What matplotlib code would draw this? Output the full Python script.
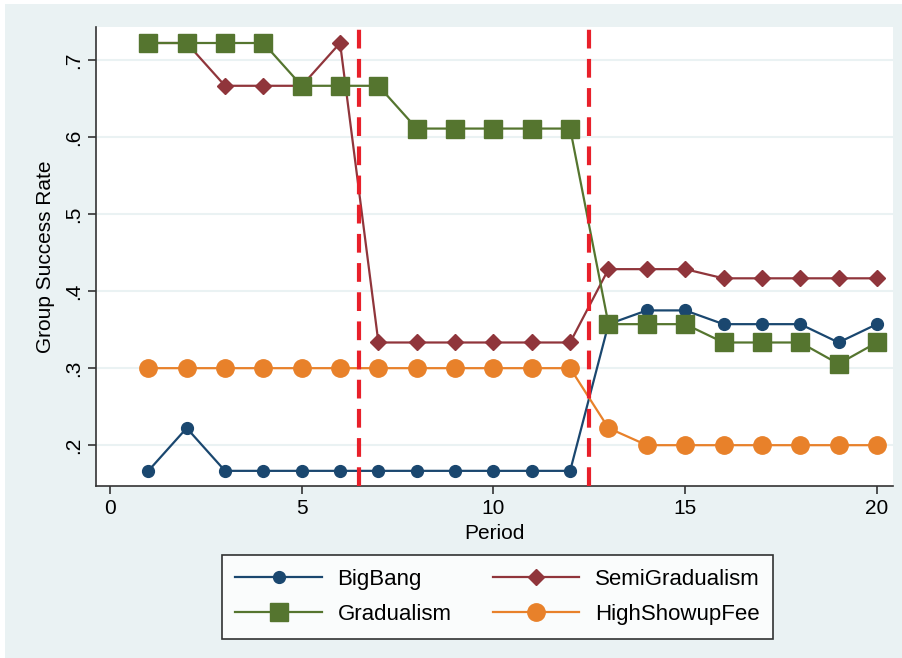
import numpy as np
import matplotlib
matplotlib.use("Agg")
import matplotlib.pyplot as plt
from matplotlib.patches import Rectangle

plt.rcParams['font.family'] = ['Liberation Sans', 'DejaVu Sans']

periods = list(range(1, 21))
big_bang = [1/6, 2/9, 1/6, 1/6, 1/6, 1/6, 1/6, 1/6, 1/6, 1/6, 1/6, 1/6,
            5/14, 3/8, 3/8, 5/14, 5/14, 5/14, 1/3, 5/14]
semi_grad = [13/18, 13/18, 2/3, 2/3, 2/3, 13/18, 1/3, 1/3, 1/3, 1/3, 1/3, 1/3,
             3/7, 3/7, 3/7, 5/12, 5/12, 5/12, 5/12, 5/12]
gradualism = [13/18, 13/18, 13/18, 13/18, 2/3, 2/3, 2/3, 11/18, 11/18, 11/18, 11/18, 11/18,
              5/14, 5/14, 5/14, 1/3, 1/3, 1/3, 11/36, 1/3]
high_fee = [0.3, 0.3, 0.3, 0.3, 0.3, 0.3, 0.3, 0.3, 0.3, 0.3, 0.3, 0.3,
            2/9, 0.2, 0.2, 0.2, 0.2, 0.2, 0.2, 0.2]
breaks = [6.5, 12.5]
yticks = [0.2, 0.3, 0.4, 0.5, 0.6, 0.7]
ytick_labels = ['.2', '.3', '.4', '.5', '.6', '.7']
xticks = [0, 5, 10, 15, 20]

bg = '#EAF2F3'
fig = plt.figure(figsize=(9.03, 6.58), dpi=100, facecolor='white')
fig.patches.append(Rectangle((5/903, 0), 1, 1 - 4/658, transform=fig.transFigure,
                             facecolor=bg, edgecolor='none', zorder=-10))
ax = fig.add_axes([96/903, 1 - 486/658, (893 - 96)/903, (486 - 27)/658])
ax.set_facecolor('white')

h1, = ax.plot(periods, big_bang, color='#1a476f', lw=1.6, marker='o', ms=8.5, label='BigBang', zorder=3)
h2, = ax.plot(periods, semi_grad, color='#90353b', lw=1.6, marker='D', ms=7.8, label='SemiGradualism', zorder=3)
h3, = ax.plot(periods, gradualism, color='#55752f', lw=1.6, marker='s', ms=13, label='Gradualism', zorder=3)
h4, = ax.plot(periods, high_fee, color='#e8812a', lw=1.6, marker='o', ms=12.5, label='HighShowupFee', zorder=3)

for b in breaks:
    ax.axvline(b, color='#e8202a', lw=3, ls=(0, (4.5, 2.5)), zorder=4)

ax.set_xlim(-0.365, 20.42)
ax.set_ylim(0.147, 0.743)
ax.set_yticks(yticks)
ax.set_yticklabels(ytick_labels, rotation=90, va='center')
ax.set_xticks(xticks)
ax.yaxis.grid(True, color=bg, lw=1.5, zorder=0)
ax.set_axisbelow(True)
for s in ['top', 'right']:
    ax.spines[s].set_visible(False)
for s in ['left', 'bottom']:
    ax.spines[s].set_color('#333333')
    ax.spines[s].set_linewidth(1.2)
ax.tick_params(axis='both', labelsize=15, length=6, width=1.2, color='#333333')
ax.set_xlabel('Period', fontsize=15, labelpad=4)
ax.set_ylabel('Group Success Rate', fontsize=15, labelpad=6)

leg = fig.legend([h1, h3, h2, h4], ['BigBang', 'Gradualism', 'SemiGradualism', 'HighShowupFee'],
                 ncol=2, loc='center', bbox_to_anchor=((218 + 777) / 2 / 903, 1 - 597/658),
                 fontsize=16, frameon=True, fancybox=False, handlelength=3.9,
                 handletextpad=0.7, columnspacing=1.85, borderpad=0.6, labelspacing=0.65)
leg.get_frame().set_edgecolor('black')
leg.get_frame().set_linewidth(1.2)

fig.savefig('out.png', dpi=100, facecolor=fig.get_facecolor())
